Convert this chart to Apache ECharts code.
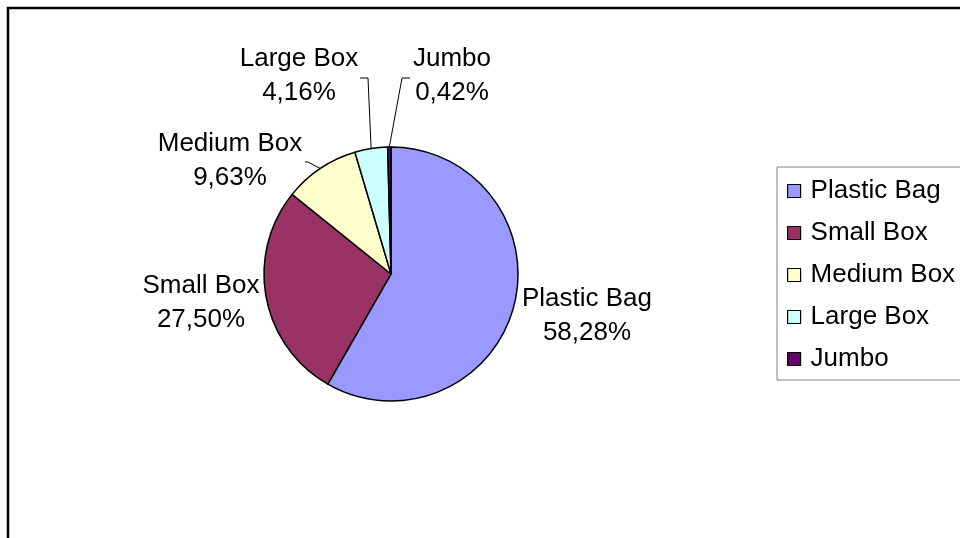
<!DOCTYPE html>
<html>
<head>
<meta charset="utf-8">
<script src="https://cdn.jsdelivr.net/npm/echarts@6/dist/echarts.min.js"></script>
<style>
    html, body {
        margin: 0;
        padding: 0;
        background: #fff;
    }
    #chart {
        width: 960px;
        height: 538px;
    }
</style>
</head>
<body>
<div id="chart"></div>
<script>
    // data
    const categories = ['Plastic Bag', 'Small Box', 'Medium Box', 'Large Box', 'Jumbo']
    const shares = [58.28, 27.50, 9.63, 4.16, 0.42]
    const colors = ['#9999ff', '#993366', '#ffffcc', '#ccffff', '#660066']

    // layout: label centres and the elbow / end of each leader line (null = no line)
    const labelPos = [[587, 316], [201, 303], [230, 161], [299, 76], [452, 76]]
    const leaderEnds = [null, null, [[308, 162], [305, 162]], [[368, 78], [360, 78]], [[402, 78], [410, 78]]]

    const font = '"Liberation Sans", Arial, sans-serif'
    const cx = 391, cy = 274, r = 127

    // point on the pie edge in the middle of slice i (start at 12 o'clock, clockwise)
    const total = shares.reduce((a, b) => a + b, 0)
    function edgePoint(i) {
        let before = 0
        for (let k = 0; k < i; k++) before += shares[k]
        const t = (before + shares[i] / 2) / total * Math.PI * 2
        return [cx + r * Math.sin(t), cy - r * Math.cos(t)]
    }

    const chart = echarts.init(document.getElementById('chart'))

    const option = {
        animation: false,
        color: colors,
        // outer chart frame
        graphic: [
            {
                type: 'rect',
                shape: {x: 8, y: 8, width: 1000, height: 600},
                style: {fill: 'none', stroke: '#000', lineWidth: 2.5},
                silent: true
            }
        ],
        legend: {
            orient: 'vertical',
            left: 777,
            top: 167,
            padding: [11, 80, 8, 10],
            borderColor: '#808080',
            borderWidth: 1,
            itemWidth: 13,
            itemHeight: 13,
            itemGap: 16,
            icon: 'rect',
            itemStyle: {borderColor: '#000', borderWidth: 1.2},
            textStyle: {
                fontFamily: font,
                fontSize: 26,
                lineHeight: 26,
                color: '#000',
                padding: [0, 0, 0, 5]
            },
            data: categories
        },
        series: [
            {
                type: 'pie',
                center: [cx, cy],
                radius: r,
                startAngle: 90,
                clockwise: true,
                avoidLabelOverlap: false,
                itemStyle: {borderColor: '#000', borderWidth: 1.5},
                label: {
                    show: true,
                    position: 'outside',
                    fontFamily: font,
                    fontSize: 26,
                    lineHeight: 34,
                    color: '#000',
                    formatter: p => p.name + '\n' + p.value.toFixed(2).replace('.', ',') + '%'
                },
                labelLine: {
                    show: true,
                    length: 6,
                    length2: 6,
                    lineStyle: {color: '#000', width: 1}
                },
                labelLayout: params => {
                    const i = params.dataIndex
                    const pos = labelPos[i]
                    const out = {x: pos[0], y: pos[1], align: 'center', verticalAlign: 'middle'}
                    if (leaderEnds[i]) {
                        out.labelLinePoints = [edgePoint(i), leaderEnds[i][0], leaderEnds[i][1]]
                    }
                    return out
                },
                emphasis: {disabled: true},
                data: categories.map((name, i) => ({
                    name: name,
                    value: shares[i],
                    labelLine: {show: leaderEnds[i] != null}
                }))
            }
        ]
    }

    chart.setOption(option)
</script>
</body>
</html>
